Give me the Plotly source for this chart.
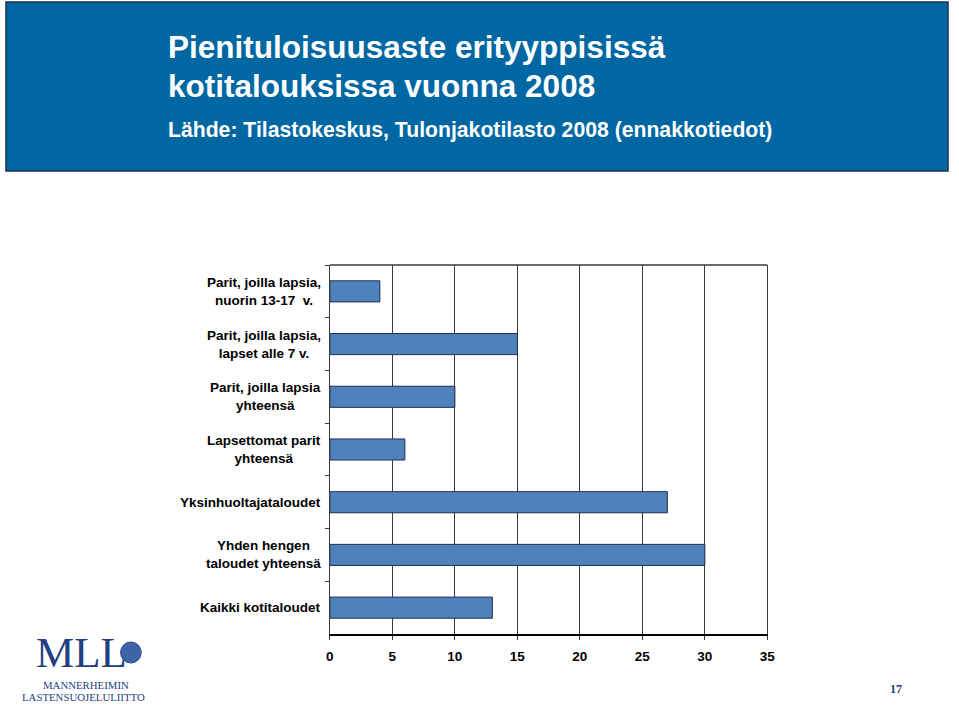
import plotly.graph_objects as go

categories = [
    "Parit, joilla lapsia,<br>nuorin 13-17  v.",
    "Parit, joilla lapsia,<br>lapset alle 7 v.",
    "Parit, joilla lapsia<br>yhteensä",
    "Lapsettomat parit<br>yhteensä",
    "Yksinhuoltajataloudet",
    "Yhden hengen<br>taloudet yhteensä",
    "Kaikki kotitaloudet",
]
values = [4, 15, 10, 6, 27, 30, 13]
x_ticks = [0, 5, 10, 15, 20, 25, 30, 35]

title1 = "Pienituloisuusaste erityyppisissä"
title2 = "kotitalouksissa vuonna 2008"
subtitle = "Lähde: Tilastokeskus, Tulonjakotilasto 2008 (ennakkotiedot)"

W, H = 959, 705
FONT = "Liberation Sans, Arial, sans-serif"
SERIF = "Liberation Serif, DejaVu Serif, serif"

fig = go.Figure()
fig.add_trace(go.Bar(
    x=values, y=categories, orientation="h",
    marker=dict(color="#4F81BD", line=dict(color="#1F2F4F", width=1)),
    hoverinfo="x+y",
))

px = lambda v: v / W
py = lambda v: 1 - v / H

fig.update_layout(
    width=W, height=H,
    margin=dict(l=0, r=0, t=0, b=0),
    paper_bgcolor="white", plot_bgcolor="white",
    showlegend=False, bargap=0.6,
    xaxis=dict(
        domain=[px(330), px(773)], range=[0, 35], tickvals=x_ticks,
        showgrid=True, gridcolor="#3a3a3a", gridwidth=1.3,
        showline=True, linecolor="black", linewidth=2,
        ticks="outside", ticklen=4, tickcolor="#3a3a3a",
        zeroline=False, ticklabelstandoff=5,
        tickfont=dict(family=FONT, size=13.5, color="black", weight="bold"),
        fixedrange=True,
    ),
    yaxis=dict(
        domain=[py(634), py(265)], autorange="reversed",
        showticklabels=False, showgrid=False,
        showline=True, linecolor="#3a3a3a", linewidth=1.3, mirror=True,
        ticks="outside", tickson="boundaries", ticklen=4, tickcolor="#3a3a3a",
        fixedrange=True,
    ),
)

shapes = [
    # header band
    dict(type="rect", xref="paper", yref="paper", x0=px(2), x1=px(956), y0=py(171), y1=py(2),
         fillcolor="#0067A3", line=dict(color="#1b3550", width=1.5), layer="below"),
    # top border of plot
    dict(type="line", xref="x domain", yref="y domain", x0=0, x1=1, y0=1, y1=1,
         line=dict(color="#3a3a3a", width=1.3)),
    # logo emblem
    dict(type="circle", xref="paper", yref="paper", x0=px(118), x1=px(139), y0=py(663), y1=py(642),
         fillcolor="#3d63a8", line=dict(color="#2a4a8a", width=1)),
]

annotations = []
for c in categories:
    annotations.append(dict(
        x=0, xref="x domain", y=c, yref="y", text=c, showarrow=False,
        xanchor="right", yanchor="middle", align="center", xshift=-7,
        font=dict(family=FONT, size=13.5, color="black", weight="bold"),
    ))

annotations += [
    dict(x=px(164), y=py(47), xref="paper", yref="paper", text=title1, showarrow=False,
         xanchor="left", yanchor="middle", font=dict(family=FONT, size=31.5, color="white", weight="bold")),
    dict(x=px(164), y=py(86), xref="paper", yref="paper", text=title2, showarrow=False,
         xanchor="left", yanchor="middle", font=dict(family=FONT, size=31.5, color="white", weight="bold")),
    dict(x=px(164), y=py(130), xref="paper", yref="paper", text=subtitle, showarrow=False,
         xanchor="left", yanchor="middle", font=dict(family=FONT, size=21.2, color="white", weight="bold")),
    # logo text
    dict(x=px(78), y=py(677), xref="paper", yref="paper", text="MLL", showarrow=False,
         xanchor="center", yanchor="bottom", borderpad=0,
         font=dict(family=SERIF, size=43, color="#22407f")),
    dict(x=px(83), y=py(685), xref="paper", yref="paper", text="MANNERHEIMIN", showarrow=False,
         xanchor="center", yanchor="middle", font=dict(family=SERIF, size=10.8, color="#22407f")),
    dict(x=px(81), y=py(697), xref="paper", yref="paper", text="LASTENSUOJELULIITTO", showarrow=False,
         xanchor="center", yanchor="middle", font=dict(family=SERIF, size=10.8, color="#22407f")),
    dict(x=px(903), y=py(689), xref="paper", yref="paper", text="17", showarrow=False,
         xanchor="center", yanchor="middle", font=dict(family=SERIF, size=12, color="#22407f", weight="bold")),
]

fig.update_layout(shapes=shapes, annotations=annotations)
fig.write_html(
    "out.html",
    config={"displayModeBar": False},
    post_script="document.body.style.margin='0';document.body.style.overflow='hidden';",
)
